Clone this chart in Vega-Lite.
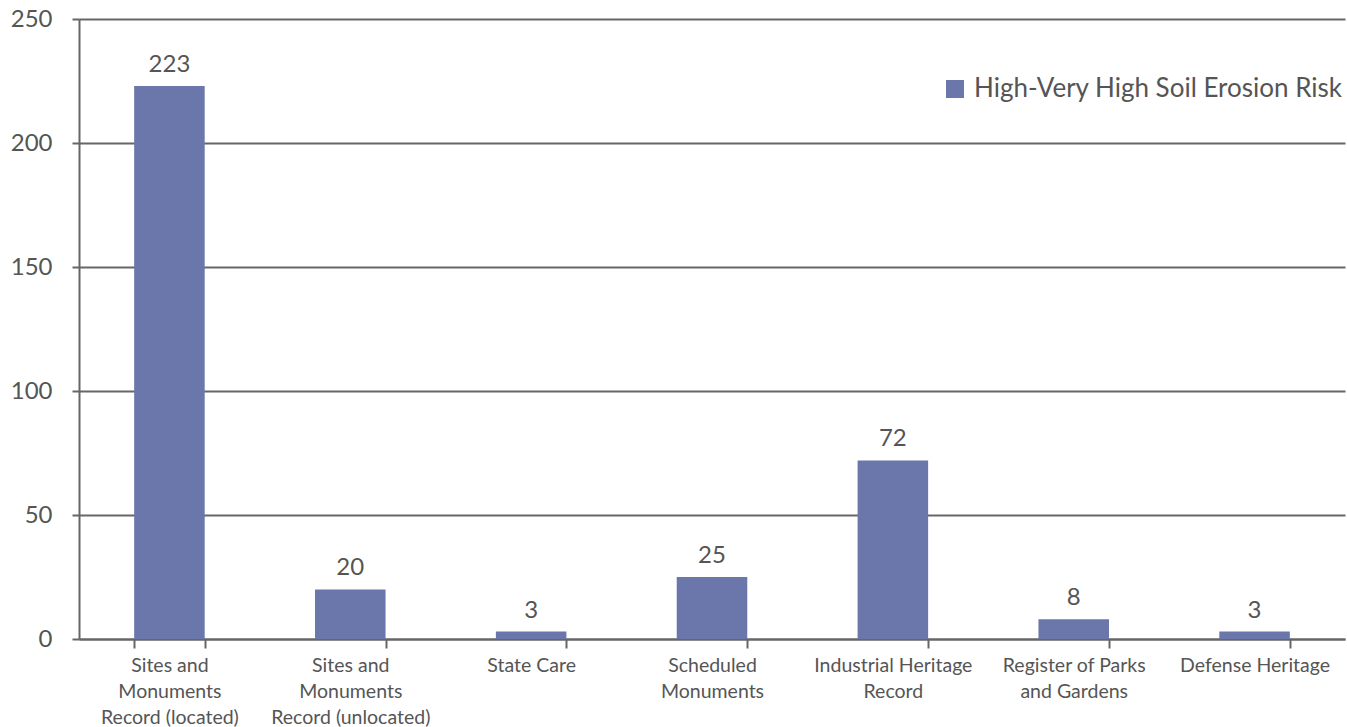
{
  "$schema": "https://vega.github.io/schema/vega-lite/v6.json",
  "autosize": "none",
  "width": 1266,
  "height": 620,
  "padding": {"left": 79, "top": 19, "right": 2, "bottom": 88},
  "background": "white",
  "config": {
    "font": "Lato",
    "view": {"stroke": null}
  },
  "data": {
    "values": [
      {"category": "Sites and|Monuments|Record (located)", "value": 223, "series": "High-Very High Soil Erosion Risk"},
      {"category": "Sites and|Monuments|Record (unlocated)", "value": 20, "series": "High-Very High Soil Erosion Risk"},
      {"category": "State Care", "value": 3, "series": "High-Very High Soil Erosion Risk"},
      {"category": "Scheduled|Monuments", "value": 25, "series": "High-Very High Soil Erosion Risk"},
      {"category": "Industrial Heritage|Record", "value": 72, "series": "High-Very High Soil Erosion Risk"},
      {"category": "Register of Parks|and Gardens", "value": 8, "series": "High-Very High Soil Erosion Risk"},
      {"category": "Defense Heritage", "value": 3, "series": "High-Very High Soil Erosion Risk"}
    ]
  },
  "encoding": {
    "x": {
      "field": "category",
      "type": "nominal",
      "sort": null,
      "scale": {"paddingInner": 0.61, "paddingOuter": 0.305},
      "axis": {
        "title": null,
        "labelAngle": 0,
        "labelExpr": "split(datum.label, '|')",
        "labelFont": "Lato",
        "labelFontSize": 19.5,
        "labelColor": "#555555",
        "labelLineHeight": 26,
        "labelPadding": 8,
        "labelBaseline": "top",
        "domainColor": "#666666",
        "domainWidth": 2,
        "tickColor": "#666666",
        "tickWidth": 2,
        "tickSize": 9,
        "tickBand": "extent",
        "labelLimit": 300
      }
    },
    "y": {
      "field": "value",
      "type": "quantitative",
      "scale": {"domain": [0, 250]},
      "axis": {
        "title": null,
        "values": [0, 50, 100, 150, 200, 250],
        "labelFont": "Lato",
        "labelFontSize": 24,
        "labelColor": "#555555",
        "labelPadding": 20,
        "domainColor": "#666666",
        "domainWidth": 2,
        "tickColor": "#666666",
        "tickWidth": 2,
        "tickSize": 7,
        "grid": true,
        "gridColor": "#666666",
        "gridWidth": 2
      }
    }
  },
  "layer": [
    {
      "mark": {"type": "bar", "color": "#6b77aa"},
      "encoding": {
        "color": {
          "field": "series",
          "type": "nominal",
          "scale": {"range": ["#6b77aa"]},
          "legend": {
            "title": null,
            "orient": "none",
            "legendX": 863,
            "legendY": 57,
            "symbolType": "square",
            "symbolSize": 324,
            "symbolStrokeWidth": 0,
            "symbolFillColor": "#6b77aa",
            "labelFont": "Lato",
            "labelFontSize": 26,
            "labelColor": "#555555",
            "labelOffset": 6,
            "labelLimit": 500
          }
        }
      }
    },
    {
      "mark": {"type": "text", "baseline": "alphabetic", "dy": -14, "font": "Lato", "fontSize": 24, "color": "#555555"},
      "encoding": {
        "text": {"field": "value", "type": "quantitative"}
      }
    }
  ]
}
